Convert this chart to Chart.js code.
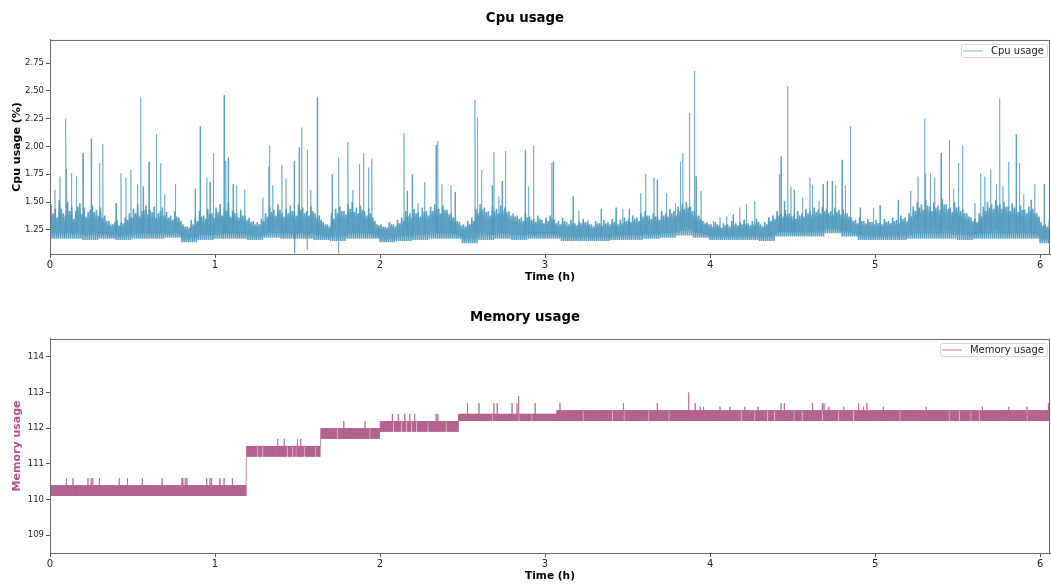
<!DOCTYPE html>
<html>
<head>
<meta charset="utf-8">
<script src="https://cdn.jsdelivr.net/npm/chart.js@4.4.1/dist/chart.umd.min.js"></script>
<style>
html, body { margin: 0; padding: 0; background: #fff; overflow: hidden; }
canvas { position: absolute; left: 0; }
</style>
</head>
<body>
<canvas id="cpuChart" width="1051" height="292" style="top:0px"></canvas>
<canvas id="memChart" width="1051" height="292" style="top:299px"></canvas>
<script>
// axis ticks
const hourTicks = [0, 1, 2, 3, 4, 5, 6];
const cpuTicks = [1.25, 1.50, 1.75, 2.00, 2.25, 2.50, 2.75];
const memTicks = [109, 110, 111, 112, 113, 114];

// cpu: two readings of the noisy band top per 0.025 h bin
const CPU_STEP = 0.025;
const cpuTop = [
  1.48, 1.44, 1.52, 1.40, 1.50, 1.46, 1.42, 1.49, 1.45, 1.41,
  1.47, 1.43, 1.45, 1.38, 1.33, 1.30, 1.34, 1.32, 1.36, 1.40,
  1.44, 1.48, 1.42, 1.47, 1.43, 1.46, 1.40, 1.45, 1.41, 1.38,
  1.42, 1.36, 1.30, 1.28, 1.34, 1.36, 1.42, 1.38, 1.44, 1.40,
  1.45, 1.48, 1.44, 1.50, 1.42, 1.40, 1.43, 1.38, 1.36, 1.33,
  1.32, 1.35, 1.40, 1.46, 1.43, 1.48, 1.40, 1.44, 1.47, 1.42,
  1.48, 1.45, 1.42, 1.46, 1.40, 1.38, 1.32, 1.30, 1.40, 1.44,
  1.46, 1.42, 1.48, 1.50, 1.45, 1.47, 1.42, 1.44, 1.36, 1.30,
  1.30, 1.28, 1.32, 1.30, 1.34, 1.36, 1.42, 1.40, 1.44, 1.41,
  1.45, 1.42, 1.46, 1.48, 1.44, 1.47, 1.43, 1.40, 1.36, 1.32,
  1.30, 1.33, 1.36, 1.44, 1.48, 1.45, 1.42, 1.46, 1.44, 1.47,
  1.45, 1.42, 1.40, 1.38, 1.36, 1.40, 1.37, 1.35, 1.38, 1.34,
  1.36, 1.38, 1.34, 1.33, 1.36, 1.32, 1.34, 1.31, 1.33, 1.35,
  1.32, 1.30, 1.33, 1.31, 1.34, 1.32, 1.35, 1.33, 1.34, 1.36,
  1.35, 1.38, 1.36, 1.40, 1.42, 1.38, 1.40, 1.37, 1.42, 1.40,
  1.44, 1.42, 1.46, 1.48, 1.50, 1.46, 1.42, 1.38, 1.33, 1.32,
  1.30, 1.32, 1.29, 1.31, 1.30, 1.33, 1.31, 1.32, 1.34, 1.31,
  1.33, 1.35, 1.30, 1.32, 1.36, 1.38, 1.42, 1.40, 1.43, 1.40,
  1.38, 1.42, 1.40, 1.44, 1.42, 1.45, 1.43, 1.46, 1.44, 1.42,
  1.45, 1.43, 1.44, 1.40, 1.36, 1.34, 1.36, 1.33, 1.35, 1.32,
  1.34, 1.32, 1.35, 1.33, 1.36, 1.34, 1.38, 1.36, 1.40, 1.46,
  1.50, 1.48, 1.52, 1.46, 1.50, 1.47, 1.53, 1.48, 1.45, 1.50,
  1.46, 1.44, 1.40, 1.36, 1.35, 1.40, 1.46, 1.50, 1.48, 1.52,
  1.48, 1.50, 1.46, 1.49, 1.45, 1.47, 1.43, 1.46, 1.44, 1.40,
  1.32, 1.30, 1.34
];
const cpuTop2 = [
  1.40, 1.36, 1.44, 1.38, 1.42, 1.35, 1.46, 1.39, 1.37, 1.43,
  1.41, 1.38, 1.36, 1.33, 1.30, 1.32, 1.29, 1.31, 1.34, 1.36,
  1.40, 1.37, 1.43, 1.39, 1.41, 1.36, 1.42, 1.38, 1.36, 1.34,
  1.37, 1.33, 1.28, 1.27, 1.30, 1.33, 1.37, 1.35, 1.39, 1.36,
  1.41, 1.38, 1.42, 1.37, 1.40, 1.36, 1.38, 1.34, 1.32, 1.30,
  1.30, 1.33, 1.37, 1.41, 1.38, 1.43, 1.37, 1.40, 1.42, 1.38,
  1.43, 1.40, 1.38, 1.42, 1.36, 1.34, 1.30, 1.28, 1.35, 1.40,
  1.42, 1.39, 1.44, 1.41, 1.40, 1.43, 1.38, 1.40, 1.33, 1.29,
  1.28, 1.27, 1.30, 1.28, 1.31, 1.33, 1.38, 1.36, 1.40, 1.37,
  1.41, 1.38, 1.42, 1.44, 1.40, 1.43, 1.39, 1.36, 1.33, 1.29,
  1.28, 1.30, 1.33, 1.40, 1.43, 1.41, 1.38, 1.42, 1.40, 1.43,
  1.41, 1.38, 1.37, 1.35, 1.33, 1.36, 1.34, 1.32, 1.35, 1.31,
  1.33, 1.35, 1.31, 1.30, 1.33, 1.30, 1.31, 1.29, 1.31, 1.32,
  1.30, 1.28, 1.31, 1.29, 1.31, 1.30, 1.32, 1.30, 1.31, 1.33,
  1.32, 1.35, 1.33, 1.37, 1.38, 1.35, 1.37, 1.34, 1.38, 1.37,
  1.40, 1.38, 1.42, 1.44, 1.45, 1.42, 1.38, 1.35, 1.31, 1.30,
  1.28, 1.30, 1.27, 1.29, 1.28, 1.30, 1.29, 1.30, 1.31, 1.29,
  1.30, 1.32, 1.28, 1.30, 1.33, 1.35, 1.38, 1.37, 1.39, 1.37,
  1.35, 1.38, 1.37, 1.40, 1.39, 1.41, 1.40, 1.42, 1.40, 1.39,
  1.41, 1.39, 1.40, 1.37, 1.33, 1.31, 1.33, 1.31, 1.32, 1.30,
  1.31, 1.30, 1.32, 1.31, 1.33, 1.31, 1.35, 1.33, 1.37, 1.42,
  1.45, 1.43, 1.47, 1.42, 1.45, 1.43, 1.48, 1.44, 1.41, 1.45,
  1.42, 1.40, 1.37, 1.33, 1.32, 1.37, 1.42, 1.45, 1.44, 1.47,
  1.44, 1.46, 1.42, 1.45, 1.41, 1.43, 1.40, 1.42, 1.40, 1.37,
  1.29, 1.28, 1.31
];

// cpu: lower edge of the band, one value every 0.1 h
const CPU_LOW_STEP = 0.1;
const cpuBottom = [
  1.17, 1.17, 1.16, 1.17, 1.16, 1.17, 1.17, 1.18, 1.14, 1.16,
  1.17, 1.17, 1.16, 1.18, 1.17, 1.17, 1.16, 1.15, 1.17, 1.17,
  1.14, 1.15, 1.16, 1.17, 1.17, 1.13, 1.16, 1.17, 1.16, 1.17,
  1.17, 1.15, 1.15, 1.15, 1.16, 1.16, 1.17, 1.18, 1.20, 1.18,
  1.16, 1.16, 1.16, 1.15, 1.19, 1.19, 1.19, 1.22, 1.19, 1.16,
  1.16, 1.16, 1.17, 1.17, 1.17, 1.16, 1.17, 1.17, 1.17, 1.17,
  1.13
];

// cpu: single samples sticking out of the band [time h, %]
const cpuSpikes = [
  [0.00, 1.82], [0.03, 1.61], [0.06, 1.73], [0.095, 2.25], [0.10, 1.80], [0.13, 1.76],
  [0.16, 1.73], [0.20, 1.94], [0.25, 2.07], [0.30, 1.85], [0.32, 2.02], [0.40, 1.49],
  [0.43, 1.76], [0.46, 1.72], [0.49, 1.79], [0.53, 1.66], [0.55, 2.44], [0.565, 1.64],
  [0.60, 1.86], [0.645, 2.11], [0.67, 1.85], [0.695, 1.57], [0.76, 1.66], [0.88, 1.62],
  [0.91, 2.18], [0.95, 1.72], [0.97, 1.68], [0.99, 1.94], [1.055, 2.46], [1.065, 1.87],
  [1.08, 1.90], [1.11, 1.66], [1.13, 1.65], [1.18, 1.61], [1.29, 1.54], [1.325, 1.82],
  [1.33, 2.01], [1.35, 1.65], [1.405, 1.83], [1.43, 1.71], [1.48, 1.87], [1.483, 1.04],
  [1.51, 1.99], [1.525, 2.17], [1.558, 1.07], [1.56, 1.97], [1.58, 1.61], [1.62, 2.44],
  [1.71, 1.75], [1.748, 1.04], [1.75, 1.90], [1.805, 2.04], [1.835, 1.61], [1.875, 1.84],
  [1.90, 1.94], [1.93, 1.81], [1.95, 1.89],
  [2.145, 2.12], [2.165, 1.60], [2.195, 1.75], [2.23, 1.49], [2.27, 1.68], [2.34, 2.01],
  [2.35, 2.05], [2.375, 1.66], [2.43, 1.65], [2.455, 1.59], [2.575, 2.42], [2.59, 2.26],
  [2.615, 1.79], [2.68, 1.65], [2.69, 1.95], [2.72, 1.55], [2.74, 1.69], [2.76, 1.96],
  [2.88, 1.97], [2.90, 1.64], [2.93, 2.01], [3.04, 1.85], [3.05, 1.86], [3.17, 1.55],
  [3.205, 1.42], [3.26, 1.34], [3.34, 1.44], [3.43, 1.45], [3.47, 1.44], [3.51, 1.44],
  [3.58, 1.58], [3.61, 1.75], [3.66, 1.72], [3.68, 1.70], [3.735, 1.58], [3.79, 1.49],
  [3.82, 1.86], [3.835, 1.94], [3.875, 2.30], [3.905, 2.68], [3.915, 1.73], [3.945, 1.60],
  [4.02, 1.33], [4.06, 1.36], [4.10, 1.37], [4.14, 1.39], [4.18, 1.45], [4.22, 1.48],
  [4.27, 1.51], [4.355, 1.36], [4.42, 1.75], [4.43, 1.91], [4.45, 1.51], [4.47, 2.54],
  [4.49, 1.64], [4.51, 1.61], [4.56, 1.54], [4.605, 1.72], [4.62, 1.65], [4.66, 1.51],
  [4.685, 1.66], [4.71, 1.69], [4.74, 1.69], [4.76, 1.65], [4.80, 1.88], [4.82, 1.65],
  [4.85, 2.18], [4.91, 1.45], [4.99, 1.45], [5.03, 1.47], [5.14, 1.52], [5.215, 1.60],
  [5.26, 1.73], [5.30, 2.25], [5.305, 1.76], [5.335, 1.76], [5.36, 1.72], [5.40, 1.94],
  [5.45, 2.06], [5.475, 1.62], [5.505, 1.85], [5.53, 2.01], [5.605, 1.49], [5.64, 1.76],
  [5.665, 1.73], [5.70, 1.79], [5.735, 1.66], [5.755, 2.43], [5.775, 1.64], [5.81, 1.86],
  [5.855, 2.11], [5.875, 1.85], [5.90, 1.57], [5.945, 1.52], [5.967, 1.66], [6.025, 1.66]
];

// memory: level changes, the value flips between low and high inside a level
const memLevelStart = [0, 1.19, 1.64, 2.0, 2.475, 3.07];
const memLow = [110.1, 111.2, 111.7, 111.9, 112.2, 112.2];
const memHigh = [110.4, 111.5, 112.0, 112.2, 112.4, 112.5];
const memSpikes = [
  [0.10, 110.6], [0.14, 110.6], [0.23, 110.6], [0.25, 110.6], [0.26, 110.6], [0.30, 110.6],
  [0.42, 110.6], [0.47, 110.6], [0.56, 110.6], [0.68, 110.6], [0.80, 110.6], [0.805, 110.6],
  [0.82, 110.6], [0.83, 110.6], [0.95, 110.6], [0.97, 110.6], [0.98, 110.6], [1.03, 110.6],
  [1.055, 110.6], [1.105, 110.6],
  [1.38, 111.7], [1.42, 111.7], [1.50, 111.7], [1.52, 111.7],
  [1.78, 112.2], [1.91, 112.2],
  [2.075, 112.4], [2.11, 112.4], [2.15, 112.4], [2.18, 112.4], [2.21, 112.4], [2.34, 112.4], [2.35, 112.4],
  [2.53, 112.7], [2.60, 112.7], [2.69, 112.7], [2.71, 112.7], [2.80, 112.7], [2.83, 112.7],
  [2.84, 112.9], [2.94, 112.7],
  [3.09, 112.7], [3.475, 112.7], [3.68, 112.7], [3.87, 113.0], [3.91, 112.7], [3.94, 112.6],
  [3.96, 112.6], [4.06, 112.6], [4.12, 112.6], [4.21, 112.6], [4.29, 112.6], [4.43, 112.7],
  [4.45, 112.7], [4.62, 112.7], [4.68, 112.7], [4.69, 112.7], [4.72, 112.6], [4.81, 112.6],
  [4.90, 112.7], [4.93, 112.6], [4.95, 112.7], [5.05, 112.6], [5.31, 112.6], [5.65, 112.6],
  [5.81, 112.6], [5.92, 112.6], [6.05, 112.7]
];
// memory: moments where the value stays flat (white gaps in the band)
const memGaps = [
  1.26, 1.29, 1.44, 1.47, 1.49, 1.54, 1.61, 1.74, 1.94,
  2.08, 2.13, 2.16, 2.19, 2.22, 2.29, 2.40, 2.68, 2.84, 2.92,
  3.23, 3.41, 3.48, 3.63, 3.75, 4.19, 4.27, 4.35, 4.39, 4.51, 4.56,
  4.68, 4.78, 4.87, 5.15, 5.45, 5.51, 5.58, 5.63, 5.92
];
const X_MAX = 6.06;
const MEM_STEP = 0.002;

const lowAt = t => cpuBottom[Math.min(Math.floor(t / CPU_LOW_STEP + 1e-6), cpuBottom.length - 1)];

// cpu band: the value runs between the lower edge and the two band readings
const cpuBandPts = [];
cpuTop.forEach((v, i) => {
  const t = i * CPU_STEP;
  const lo = lowAt(t);
  cpuBandPts.push(
    { x: t, y: lo }, { x: t + CPU_STEP * 0.25, y: v },
    { x: t + CPU_STEP * 0.5, y: lo }, { x: t + CPU_STEP * 0.75, y: cpuTop2[i] }
  );
});
cpuBandPts.push({ x: X_MAX, y: lowAt(X_MAX) });

// cpu isolated peaks
const cpuSpikePts = [];
cpuSpikes.forEach(([t, v]) => {
  const lo = lowAt(t) + 0.05;
  cpuSpikePts.push({ x: t - 0.002, y: lo }, { x: t, y: v }, { x: t + 0.002, y: lo });
});

// build memory line
const memPts = [];
memLevelStart.forEach((start, k) => {
  const end = k + 1 < memLevelStart.length ? memLevelStart[k + 1] : X_MAX;
  let up = false;
  for (let t = start; t < end; t += MEM_STEP) {
    const inGap = memGaps.some(g => Math.abs(g - t) < 0.003);
    if (inGap) {
      memPts.push({ x: t, y: memHigh[k] });
    } else {
      memPts.push({ x: t, y: up ? memHigh[k] : memLow[k] });
      up = !up;
    }
  }
});
memSpikes.forEach(([t, v]) => memPts.push({ x: t, y: v }));
memPts.sort((a, b) => a.x - b.x);

const FONT = '"DejaVu Sans", sans-serif';
Chart.defaults.font.family = FONT;
Chart.defaults.color = '#222';

// axes frame + matplotlib style legend in the upper right corner
const framePlugin = {
  id: 'frame',
  afterDraw(chart, args, opts) {
    const { ctx, chartArea: a } = chart;
    ctx.save();
    ctx.strokeStyle = '#6b6b6b';
    ctx.lineWidth = 1;
    ctx.strokeRect(a.left + 0.5, a.top + 0.5, a.right - a.left - 1, a.bottom - a.top);

    ctx.font = '10px ' + FONT;
    const tw = ctx.measureText(opts.label).width;
    const right = a.right - 3, top = a.top + 4, h = 13;
    const left = right - (tw + 33);
    ctx.fillStyle = 'rgba(255,255,255,0.85)';
    ctx.strokeStyle = '#d6d6d6';
    ctx.beginPath();
    ctx.roundRect(left + 0.5, top + 0.5, right - left, h, 2);
    ctx.fill();
    ctx.stroke();
    ctx.strokeStyle = opts.color;
    ctx.lineWidth = 1.2;
    ctx.beginPath();
    ctx.moveTo(left + 2, top + 7);
    ctx.lineTo(left + 22, top + 7);
    ctx.stroke();
    ctx.fillStyle = '#222';
    ctx.textBaseline = 'middle';
    ctx.fillText(opts.label, left + 30, top + 7.5);
    ctx.restore();
  }
};

function makeChart(id, title, label, datasets, legendColor, yMin, yMax, yTicks, yLabel, yLabelColor, fmt) {
  return new Chart(document.getElementById(id), {
    type: 'line',
    data: { datasets: datasets },
    options: {
      responsive: false,
      animation: false,
      parsing: false,
      elements: { point: { radius: 0 }, line: { tension: 0 } },
      layout: { padding: { left: 0, right: 1, top: 0, bottom: 0 } },
      plugins: {
        legend: { display: false },
        tooltip: { enabled: false },
        title: {
          display: true,
          text: title,
          color: '#000',
          font: { size: 13.3, weight: 'bold', family: FONT },
          padding: { top: 11, bottom: 13 }
        },
        frame: { label: label, color: legendColor }
      },
      scales: {
        x: {
          type: 'linear',
          min: 0,
          max: X_MAX,
          afterBuildTicks: s => { s.ticks = hourTicks.map(v => ({ value: v })); },
          afterFit: s => { s.height = 38; },
          ticks: { font: { size: 10 }, color: '#222', padding: 1, maxRotation: 0, callback: v => String(v) },
          grid: { drawOnChartArea: false, tickLength: 4, color: '#555' },
          border: { color: '#6b6b6b' },
          title: {
            display: true,
            text: 'Time (h)',
            color: '#000',
            font: { size: 10.6, weight: 'bold' },
            padding: { top: 0, bottom: 8 }
          }
        },
        y: {
          min: yMin,
          max: yMax,
          afterBuildTicks: s => { s.ticks = yTicks.map(v => ({ value: v })); },
          afterFit: s => { s.width = 50; },
          ticks: { font: { size: 8.5 }, color: '#222', padding: 2, callback: fmt },
          grid: { drawOnChartArea: false, tickLength: 4, color: '#555' },
          border: { color: '#6b6b6b' },
          title: {
            display: true,
            text: yLabel,
            color: yLabelColor,
            font: { size: 11, weight: 'bold' },
            padding: { top: 11, bottom: 0 }
          }
        }
      }
    },
    plugins: [framePlugin]
  });
}

makeChart('cpuChart', 'Cpu usage', 'Cpu usage', [
  { label: 'Cpu usage', data: cpuSpikePts, borderWidth: 1, borderColor: 'rgba(80,155,190,0.6)', fill: false },
  { label: 'Cpu band', data: cpuBandPts, borderWidth: 1.5, borderDash: [1, 0],
    borderColor: 'rgb(92,160,194)', fill: false }
], 'rgba(120,180,210,0.8)', 1.033, 2.958, cpuTicks, 'Cpu usage (%)', '#000', v => v.toFixed(2));

makeChart('memChart', 'Memory usage', 'Memory usage', [
  { label: 'Memory usage', data: memPts, borderWidth: 1, borderDash: [1, 0],
    borderColor: 'rgba(176,92,138,0.8)', fill: false }
], 'rgba(215,130,175,0.9)', 108.5, 114.5, memTicks, 'Memory usage', '#b4508a', v => String(v));
</script>
</body>
</html>
